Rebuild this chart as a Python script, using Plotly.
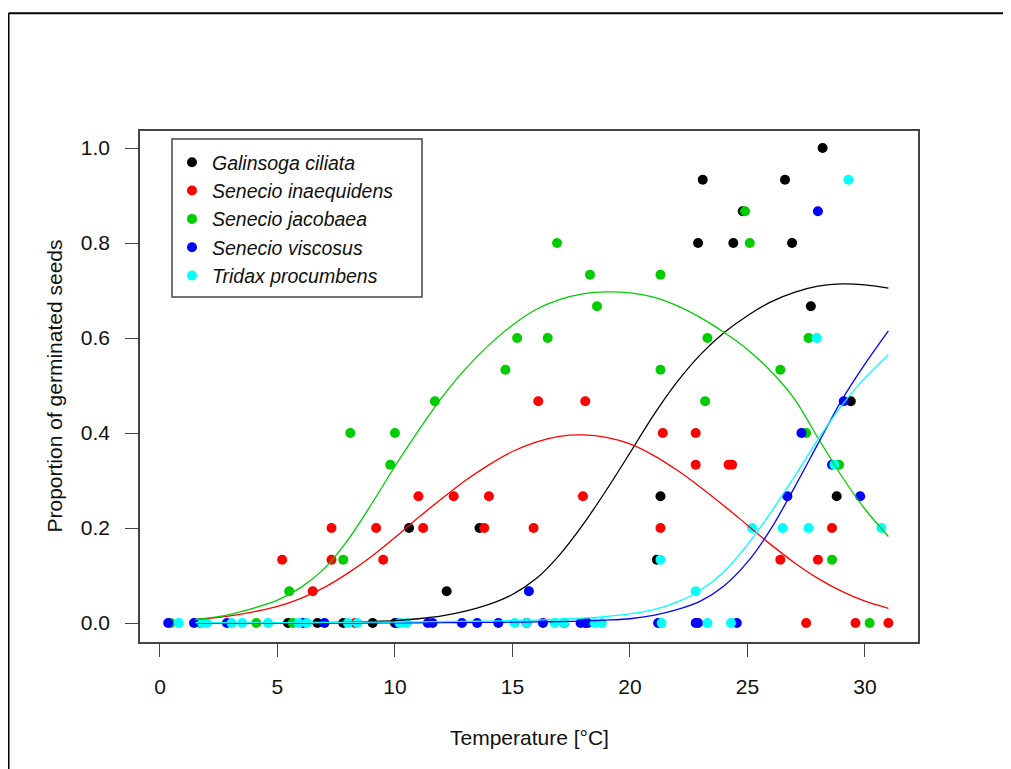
import plotly.graph_objects as go

# ---------- Data ----------

species = ["Galinsoga ciliata", "Senecio inaequidens", "Senecio jacobaea",
           "Senecio viscosus", "Tridax procumbens"]
colors = ["#000000", "#FF0000", "#00CD00", "#0000FF", "#00FFFF"]

# observed points: temperature [°C] and proportion germinated
galinsoga_t = [5.45, 6.7, 7.8, 9.05, 10.0, 10.6, 12.2, 13.6, 15.6, 17.2, 18.1, 21.15,
               21.3, 22.9, 23.1, 24.4, 24.8, 26.6, 26.9, 27.7, 28.2, 28.8, 29.4]
galinsoga_p = [0, 0, 0, 0, 0, 0.2, 0.067, 0.2, 0, 0, 0, 0.133,
               0.267, 0.8, 0.933, 0.8, 0.867, 0.933, 0.8, 0.667, 1.0, 0.267, 0.467]

inaequidens_t = [5.2, 6.5, 7.3, 7.3, 8.3, 9.2, 9.5, 11.0, 11.2, 12.5, 13.8, 14.0, 15.9, 16.1,
                 18.0, 18.1, 21.3, 21.4, 22.8, 22.8, 24.2, 24.35, 26.4, 27.5, 28.0, 28.6,
                 29.6, 31.0]
inaequidens_p = [0.133, 0.067, 0.2, 0.133, 0, 0.2, 0.133, 0.267, 0.2, 0.267, 0.2, 0.267, 0.2,
                 0.467, 0.267, 0.467, 0.2, 0.4, 0.4, 0.333, 0.333, 0.333, 0.133, 0, 0.133,
                 0.2, 0, 0]

jacobaea_t = [0.45, 1.7, 4.1, 5.5, 5.65, 7.8, 8.1, 9.8, 10.0, 11.7, 14.7, 15.2, 16.5, 16.9,
              18.3, 18.6, 21.3, 21.3, 23.2, 23.3, 24.9, 25.1, 26.4, 27.5, 27.6, 28.6, 28.9,
              30.2]
jacobaea_p = [0, 0, 0, 0.067, 0, 0.133, 0.4, 0.333, 0.4, 0.467, 0.533, 0.6, 0.6, 0.8,
              0.733, 0.667, 0.733, 0.533, 0.467, 0.6, 0.867, 0.8, 0.533, 0.4, 0.6, 0.133,
              0.333, 0]

viscosus_t = [0.35, 1.45, 2.85, 6.1, 7.0, 10.1, 11.4, 11.6, 12.85, 13.5, 14.4, 15.7, 16.3,
              17.9, 18.2, 21.2, 22.8, 22.9, 24.55, 26.7, 27.3, 28.0, 28.6, 29.1, 29.8]
viscosus_p = [0, 0, 0, 0, 0, 0, 0, 0, 0, 0, 0, 0.067, 0,
              0, 0, 0, 0, 0, 0, 0.267, 0.4, 0.867, 0.333, 0.467, 0.267]

tridax_t = [0.8, 1.8, 2.0, 3.05, 3.5, 4.6, 5.9, 6.25, 8.0, 8.4, 10.2, 10.5, 15.1, 15.6,
            16.8, 17.2, 18.5, 18.8, 21.3, 21.35, 22.8, 23.3, 24.3, 25.2, 26.5, 27.6, 27.95,
            28.7, 29.3, 30.7]
tridax_p = [0, 0, 0, 0, 0, 0, 0, 0, 0, 0, 0, 0, 0, 0,
            0, 0, 0, 0, 0.133, 0, 0.067, 0, 0, 0.2, 0.2, 0.2, 0.6,
            0.333, 0.933, 0.2]

# fitted curves, read at these temperatures
curve_t = [1.5, 3, 5, 6, 7, 8, 9, 10, 11, 12, 13, 14, 15, 16, 17, 18, 19, 20, 21, 22,
           23, 24, 25, 26, 27, 28, 29, 30, 31]
galinsoga_fit = [0.0, 0.0, 0.0003, 0.0005, 0.001, 0.0015, 0.003, 0.005, 0.009, 0.015,
                 0.025, 0.039, 0.06, 0.093, 0.143, 0.207, 0.28, 0.358, 0.437, 0.507,
                 0.565, 0.611, 0.647, 0.676, 0.696, 0.709, 0.714, 0.712, 0.705]
inaequidens_fit = [0.007, 0.015, 0.035, 0.052, 0.075, 0.105, 0.14, 0.18, 0.222, 0.262,
                   0.3, 0.333, 0.361, 0.381, 0.393, 0.396, 0.391, 0.377, 0.353, 0.322,
                   0.286, 0.247, 0.206, 0.165, 0.127, 0.094, 0.067, 0.046, 0.031]
jacobaea_fit = [0.007, 0.018, 0.048, 0.075, 0.115, 0.175, 0.25, 0.33, 0.405, 0.475,
                0.535, 0.585, 0.627, 0.66, 0.681, 0.693, 0.697, 0.695, 0.686, 0.668,
                0.643, 0.612, 0.576, 0.53, 0.472, 0.39, 0.31, 0.24, 0.182]
viscosus_fit = [0.0, 0.0, 0.0, 0.0, 0.0, 0.0, 0.0, 0.0003, 0.0005, 0.0007,
                0.001, 0.0013, 0.0017, 0.0023, 0.003, 0.004, 0.006, 0.009, 0.016, 0.028,
                0.046, 0.078, 0.128, 0.198, 0.285, 0.377, 0.468, 0.545, 0.615]
tridax_fit = [0.0005, 0.0007, 0.001, 0.001, 0.0012, 0.0014, 0.0017, 0.002, 0.0025, 0.003,
              0.0035, 0.004, 0.005, 0.006, 0.008, 0.01, 0.014, 0.019, 0.028, 0.044,
              0.069, 0.108, 0.165, 0.233, 0.308, 0.386, 0.457, 0.516, 0.565]

x_ticks = [0, 5, 10, 15, 20, 25, 30]
y_ticks = [0.0, 0.2, 0.4, 0.6, 0.8, 1.0]

points = [(galinsoga_t, galinsoga_p), (inaequidens_t, inaequidens_p),
          (jacobaea_t, jacobaea_p), (viscosus_t, viscosus_p), (tridax_t, tridax_p)]
fits = [galinsoga_fit, inaequidens_fit, jacobaea_fit, viscosus_fit, tridax_fit]

FONT = "Liberation Sans, Arial, sans-serif"
TXT = 21
# page body has an 8px margin, so the figure is a bit smaller than the window
OFF = 8
W, H = 1011 - OFF, 769 - OFF
L, R, T, B = 140 - OFF, 93, 131 - OFF, 127

def px_x(p):
    # page pixel -> paper fraction
    return (p - OFF - L) / (W - L - R)

def px_y(p):
    return (H - B - (p - OFF)) / (H - T - B)

fig = go.Figure()

# points first, lines drawn over them (as in the original)
for name, col, (tt, pp) in zip(species, colors, points):
    fig.add_trace(go.Scatter(
        x=tt, y=pp, mode="markers", name=name,
        marker=dict(color=col, size=10, line=dict(width=0)),
    ))

for name, col, fit in zip(species, colors, fits):
    fig.add_trace(go.Scatter(
        x=curve_t, y=fit, mode="lines", showlegend=False,
        line=dict(color=col, width=1.3, shape="spline", smoothing=0.8),
        hoverinfo="skip",
    ))

axis_common = dict(
    showgrid=False, zeroline=False, showline=True, mirror=True,
    linecolor="#444444", linewidth=1.5,
    ticks="outside", ticklen=13, tickwidth=1.3, tickcolor="#444444",
    tickfont=dict(family=FONT, size=TXT, color="#111111"),
)

fig.update_xaxes(range=[-0.85, 32.26], tickvals=x_ticks, ticklabelstandoff=12, **axis_common)
fig.update_yaxes(range=[-0.04, 1.0358], tickvals=y_ticks, tickformat=".1f",
                 ticklabelstandoff=11, **axis_common)

fig.update_layout(
    width=W, height=H,
    margin=dict(l=L, r=R, t=T, b=B),
    paper_bgcolor="white", plot_bgcolor="white",
    font=dict(family=FONT, size=TXT, color="#111111"),
    showlegend=True,
    legend=dict(
        x=px_x(172), y=px_y(143), xanchor="left", yanchor="top",
        bgcolor="rgba(0,0,0,0)", borderwidth=0,
        font=dict(family=FONT, size=19.5, color="#111111", style="italic"),
        itemwidth=30,
    ),
    annotations=[
        dict(text="Temperature [°C]", x=0.5, y=px_y(737), xref="paper", yref="paper",
             showarrow=False, xanchor="center", yanchor="middle",
             font=dict(family=FONT, size=TXT, color="#111111")),
        dict(text="Proportion of germinated seeds", x=px_x(54), y=0.5,
             xref="paper", yref="paper", textangle=-90, showarrow=False,
             xanchor="center", yanchor="middle",
             font=dict(family=FONT, size=TXT, color="#111111")),
    ],
    shapes=[
        # legend frame
        dict(type="rect", xref="paper", yref="paper",
             x0=px_x(172), x1=px_x(422), y0=px_y(297), y1=px_y(139),
             line=dict(color="#444444", width=1.5)),
        # outer device frame (left and top edges visible)
        dict(type="line", xref="paper", yref="paper",
             x0=px_x(8.5), x1=px_x(8.5), y0=px_y(800), y1=px_y(13.3),
             line=dict(color="black", width=2)),
        dict(type="line", xref="paper", yref="paper",
             x0=px_x(8.5), x1=px_x(1040), y0=px_y(13.3), y1=px_y(13.3),
             line=dict(color="black", width=2)),
    ],
)

fig.write_html("out.html")
